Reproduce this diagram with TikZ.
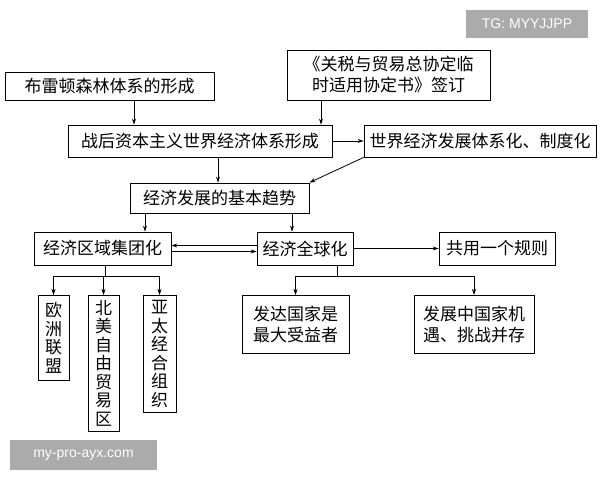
\documentclass[tikz,border=0pt]{standalone}
\usepackage{fontspec}
\newfontfamily\cjk{Noto Sans CJK SC}
\usetikzlibrary{arrows.meta}
\begin{document}
\begin{tikzpicture}[x=1pt,y=-1pt,
  bx/.style={draw,thick,font=\cjk\fontsize{17}{21}\selectfont,inner sep=0pt},
  vt/.style={bx,font=\cjk\fontsize{17}{18.5}\selectfont,text width=17,align=center,anchor=north},
  ar/.style={-{Stealth[length=6pt,width=4pt]},thick},
  ln/.style={thick},
  wm/.style={fill=black!33,text=white,font=\fontspec{Liberation Sans}\fontsize{14}{16}\selectfont,inner sep=0pt}]
\useasboundingbox (0,0) rectangle (600,480);
\fill[white] (0,0) rectangle (600,480);
\node[bx,minimum width=209,minimum height=28] (a) at (109.5,86) {布雷顿森林体系的形成};
\node[bx,minimum width=203,minimum height=50,align=center] (b) at (388.5,75) {《关税与贸易总协定临\\时适用协定书》签订};
\node[bx,minimum width=264,minimum height=32] (c) at (200,141) {战后资本主义世界经济体系形成};
\node[bx,minimum width=232,minimum height=32] (d) at (480,141) {世界经济发展体系化、制度化};
\node[bx,minimum width=179,minimum height=30] (e) at (219.5,198) {经济发展的基本趋势};
\node[bx,minimum width=137,minimum height=33] (f) at (102.5,248.5) {经济区域集团化};
\node[bx,minimum width=96,minimum height=33] (g) at (305,248.5) {经济全球化};
\node[bx,minimum width=116,minimum height=33] (h) at (497,248.5) {共用一个规则};
\node[vt,minimum width=31,minimum height=85] (i) at (53.5,295) {欧\\洲\\联\\盟};
\node[vt,minimum width=31,minimum height=136] (j) at (103.5,295) {北\\美\\自\\由\\贸\\易\\区};
\node[vt,minimum width=33,minimum height=117] (k) at (159.5,295) {亚\\太\\经\\合\\组\\织};
\node[bx,minimum width=107,minimum height=58,align=center,anchor=north] (l) at (295.5,295) {发达国家是\\最大受益者};
\node[bx,minimum width=120,minimum height=58,align=center,anchor=north] (m) at (474,295) {发展中国家机\\遇、挑战并存};
\node[wm,minimum width=122,minimum height=28] (w1) at (527,24) {TG: MYYJJPP};
\node[wm,minimum width=147,minimum height=30] (w2) at (83.5,455) {my-pro-ayx.com};
\draw[ar] (a.south -| 134,0) -- (c.north -| 134,0);
\draw[ar] (b.south -| 321,0) -- (c.north -| 321,0);
\draw[ar] (c.east) -- (d.west);
\draw[ar] (c.south -| 218,0) -- (e.north -| 218,0);
\draw[ar] (d.south west) -- (e.north east);
\draw[ar] (e.south -| 145,0) -- (f.north -| 145,0);
\draw[ar] (e.south -| 292,0) -- (g.north -| 292,0);
\draw[ar] ([yshift=-3]f.east) -- ([yshift=-3]g.west);
\draw[ar] ([yshift=3]g.west) -- ([yshift=3]f.east);
\draw[ar] (g.east) -- (h.west);
\coordinate (fj) at (105,276);
\draw[ln] (f.south -| fj) -- (fj);
\draw[ar] (fj) -| (i.north);
\draw[ar] (fj) -- (j.north |- fj) -- (j.north);
\draw[ar] (fj) -| (k.north);
\coordinate (gj) at (337,276);
\draw[ln] (g.south -| gj) -- (gj);
\draw[ar] (gj) -| (l.north);
\draw[ar] (gj) -| (m.north);
\end{tikzpicture}
\end{document}
